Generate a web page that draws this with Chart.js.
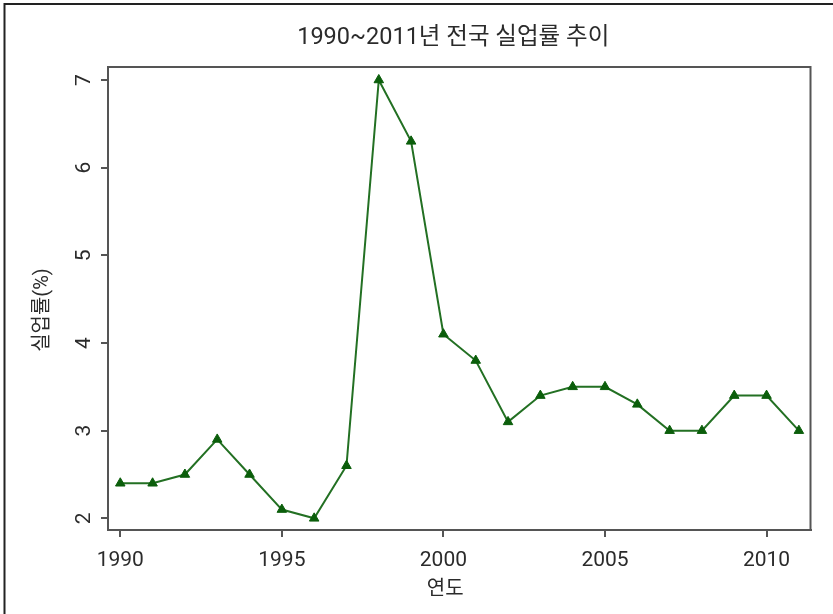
<!DOCTYPE html>
<html>
<head>
<meta charset="utf-8">
<script src="https://cdn.jsdelivr.net/npm/chart.js@4"></script>
<style>
html,body{margin:0;padding:0;background:#fff;}
#wrap{width:833px;height:614px;position:relative;}
</style>
</head>
<body>
<div id="wrap"><canvas id="c" width="833" height="614"></canvas></div>
<script>
const years = [1990,1991,1992,1993,1994,1995,1996,1997,1998,1999,2000,2001,2002,2003,2004,2005,2006,2007,2008,2009,2010,2011];
const unemployment = [2.4,2.4,2.5,2.9,2.5,2.1,2.0,2.6,7.0,6.3,4.1,3.8,3.1,3.4,3.5,3.5,3.3,3.0,3.0,3.4,3.4,3.0];
const xTicks = [1990,1995,2000,2005,2010];
const yTicks = [2,3,4,5,6,7];
const titleText = '1990~2011년 전국 실업률 추이';
const xTitle = '연도';
const yTitle = '실업률(%)';

const FONT = "Roboto, 'Noto Sans CJK KR', sans-serif";
const TXT = '#2b2b2b';

const framePlugin = {
  id: 'frame',
  beforeDraw(chart) {
    const ctx = chart.ctx;
    ctx.save();
    ctx.fillStyle = '#fff';
    ctx.fillRect(0, 0, chart.width, chart.height);
    ctx.strokeStyle = '#222';
    ctx.lineWidth = 2;
    ctx.beginPath();
    ctx.moveTo(4.5, chart.height);
    ctx.lineTo(4.5, 4);
    ctx.lineTo(chart.width, 4);
    ctx.stroke();
    ctx.restore();
  },
  afterDraw(chart) {
    const a = chart.chartArea;
    const ctx = chart.ctx;
    ctx.save();
    ctx.strokeStyle = '#555';
    ctx.lineWidth = 2;
    ctx.strokeRect(a.left, a.top, a.right - a.left, a.bottom - a.top);
    // titles
    const cx = (a.left + a.right) / 2;
    const cy = (a.top + a.bottom) / 2;
    ctx.fillStyle = TXT;
    ctx.textAlign = 'center';
    ctx.textBaseline = 'middle';
    ctx.font = "23.5px " + FONT;
    ctx.fillText(titleText, cx - 6, 38);
    ctx.font = "20px " + FONT;
    ctx.fillText(xTitle, cx - 14, 590);
    ctx.translate(42.5, cy + 11.5);
    ctx.rotate(-Math.PI / 2);
    ctx.fillText(yTitle, 0, 0);
    ctx.restore();
  }
};

new Chart(document.getElementById('c'), {
  type: 'line',
  data: {
    datasets: [{
      data: years.map((y, i) => ({x: y, y: unemployment[i]})),
      borderColor: '#237023',
      borderWidth: 2,
      pointStyle: 'triangle',
      pointRadius: 5.5,
      pointBackgroundColor: '#0b5e0b',
      pointBorderColor: '#0b5e0b',
      pointBorderWidth: 1,
      tension: 0,
      fill: false
    }]
  },
  options: {
    responsive: false,
    animation: false,
    events: [],
    layout: {padding: {left: 0, right: 22.5, top: 67, bottom: 0}},
    plugins: {
      legend: {display: false},
      tooltip: {enabled: false},
      title: {display: false}
    },
    scales: {
      x: {
        type: 'linear',
        min: 1989.62,
        max: 2011.36,
        afterBuildTicks(scale) { scale.ticks = xTicks.map(v => ({value: v})); },
        afterFit(scale) { scale.height = 84; },
        ticks: {
          color: TXT,
          font: {family: FONT, size: 21},
          padding: 11,
          maxRotation: 0,
          minRotation: 0,
          callback: v => String(v)
        },
        grid: {drawOnChartArea: false, drawTicks: true, tickLength: 7, color: '#555', lineWidth: 2},
        border: {display: true, color: '#555', width: 2}
      },
      y: {
        type: 'linear',
        min: 1.867,
        max: 7.148,
        afterBuildTicks(scale) { scale.ticks = yTicks.map(v => ({value: v})); },
        afterFit(scale) { scale.width = 108; },
        ticks: {
          color: TXT,
          font: {family: FONT, size: 21},
          padding: 10,
          minRotation: 90,
          maxRotation: 90,
          crossAlign: 'center',
          callback: v => String(v)
        },
        grid: {drawOnChartArea: false, drawTicks: true, tickLength: 7, color: '#555', lineWidth: 2},
        border: {display: true, color: '#555', width: 2}
      }
    }
  },
  plugins: [framePlugin]
});
</script>
</body>
</html>
